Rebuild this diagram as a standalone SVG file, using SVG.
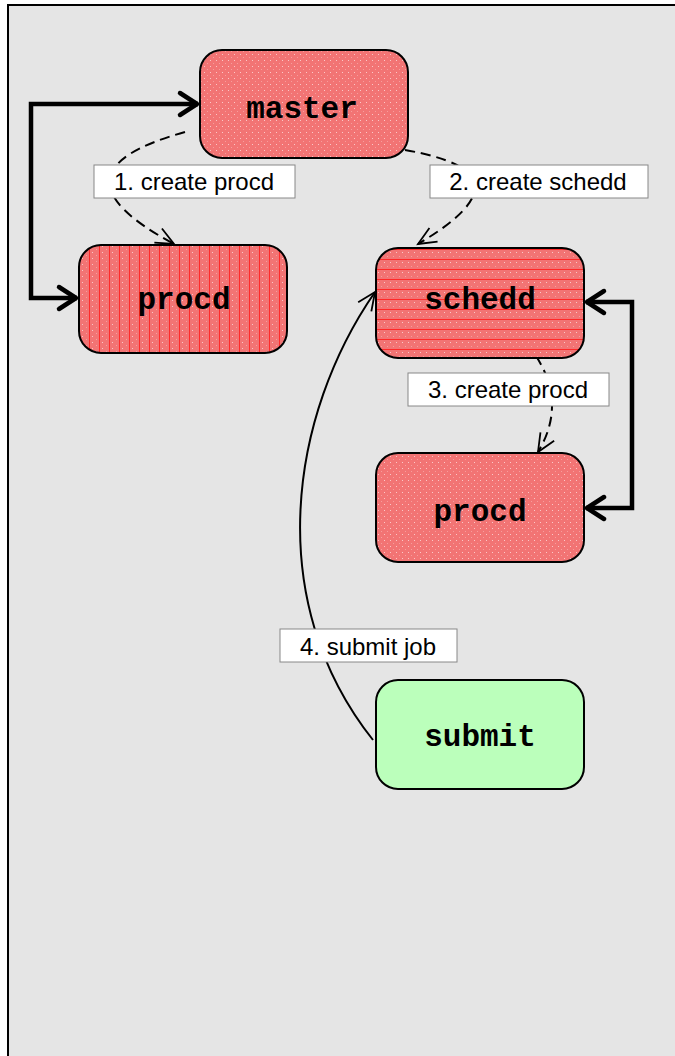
<svg xmlns="http://www.w3.org/2000/svg" width="675" height="1056" viewBox="0 0 675 1056">
<style>
.node{stroke:#000;stroke-width:2}
.ntext{font-family:"Liberation Mono","Courier New",monospace;font-weight:bold;font-size:31px;text-anchor:middle;fill:#000}
.lbox{fill:#fff;stroke:#888;stroke-width:1}
.ltext{font-family:"Liberation Sans",Arial,sans-serif;font-size:24px;text-anchor:middle;fill:#000}
.dash{fill:none;stroke:#000;stroke-width:2;stroke-dasharray:10 6;marker-end:url(#thin)}
.solid{fill:none;stroke:#000;stroke-width:2;marker-end:url(#thin)}
.thick{fill:none;stroke:#000;stroke-width:4.5;stroke-linejoin:miter;marker-start:url(#thick);marker-end:url(#thick)}
</style>
<defs>
<pattern id="dots" width="6" height="6" patternUnits="userSpaceOnUse">
<rect width="6" height="6" fill="#f27474"/>
<rect x="0" y="0" width="1" height="1" fill="#fff" opacity="0.6"/>
<rect x="3" y="3" width="1" height="1" fill="#fff" opacity="0.3"/>
</pattern>
<pattern id="vlines" width="10" height="6" patternUnits="userSpaceOnUse">
<rect width="10" height="6" fill="#f27474"/>
<rect x="2" y="0" width="1" height="1" fill="#fff" opacity="0.6"/>
<rect x="6" y="3" width="1" height="1" fill="#fff" opacity="0.3"/>
<rect x="9" y="0" width="1" height="6" fill="#ff2a2a"/>
</pattern>
<pattern id="hlines" width="6" height="10" patternUnits="userSpaceOnUse">
<rect width="6" height="10" fill="#f27474"/>
<rect x="0" y="2" width="1" height="1" fill="#fff" opacity="0.6"/>
<rect x="3" y="6" width="1" height="1" fill="#fff" opacity="0.3"/>
<rect x="0" y="9" width="6" height="1" fill="#ff2a2a"/>
</pattern>
<marker id="thin" markerUnits="userSpaceOnUse" viewBox="-22 -10 24 20" refX="0" refY="0" markerWidth="24" markerHeight="20" orient="auto" overflow="visible">
<path d="M-18,-8 L0,0 L-18,8" fill="none" stroke="#000" stroke-width="1.8"/>
</marker>
<marker id="thick" markerUnits="userSpaceOnUse" viewBox="-22 -14 26 28" refX="0" refY="0" markerWidth="26" markerHeight="28" orient="auto-start-reverse" overflow="visible">
<path d="M-18,-11 L-1,0 L-18,11" fill="none" stroke="#000" stroke-width="4.5" stroke-linecap="round" stroke-linejoin="round"/>
</marker>
</defs>
<rect x="0" y="0" width="675" height="1056" fill="#fff"/>
<rect x="8" y="5" width="667" height="1051" fill="#e5e5e5"/>
<path d="M8,1056 V5 H675" fill="none" stroke="#000" stroke-width="2"/>
<g id="connectors">
<path class="dash" d="M185,132 Q40,172 174,244"/>
<path class="dash" d="M405,150 Q538,173 418,244"/>
<path class="dash" d="M536,356 Q567,404 538,452"/>
<path class="solid" d="M373,740 C262,600 290,415 375,292"/>
<path class="thick" d="M198,104 H31 V298 H77"/>
<path class="thick" d="M586,302 H632 V508 H586"/>
</g>
<g id="node-master">
<rect class="node" x="200" y="50" width="208" height="108" rx="22" fill="url(#dots)"/>
<text class="ntext" x="302" y="118">master</text>
</g>
<g id="node-procd1">
<rect class="node" x="79" y="245" width="208" height="108" rx="22" fill="url(#vlines)"/>
<text class="ntext" x="184" y="309">procd</text>
</g>
<g id="node-schedd">
<rect class="node" x="376" y="248" width="208" height="110" rx="22" fill="url(#hlines)"/>
<text class="ntext" x="480" y="309">schedd</text>
</g>
<g id="node-procd2">
<rect class="node" x="376" y="453" width="208" height="109" rx="22" fill="url(#dots)"/>
<text class="ntext" x="480" y="521">procd</text>
</g>
<g id="node-submit">
<rect class="node" x="376" y="680" width="208" height="109" rx="22" fill="#bbffbb"/>
<text class="ntext" x="480" y="746">submit</text>
</g>
<g id="label-1">
<rect class="lbox" x="94" y="165" width="201" height="33"/>
<text class="ltext" x="194" y="190">1. create procd</text>
</g>
<g id="label-2">
<rect class="lbox" x="430" y="165" width="218" height="33"/>
<text class="ltext" x="538" y="190">2. create schedd</text>
</g>
<g id="label-3">
<rect class="lbox" x="408" y="373" width="201" height="33"/>
<text class="ltext" x="508" y="398">3. create procd</text>
</g>
<g id="label-4">
<rect class="lbox" x="280" y="629" width="177" height="33"/>
<text class="ltext" x="368" y="655">4. submit job</text>
</g>
</svg>
